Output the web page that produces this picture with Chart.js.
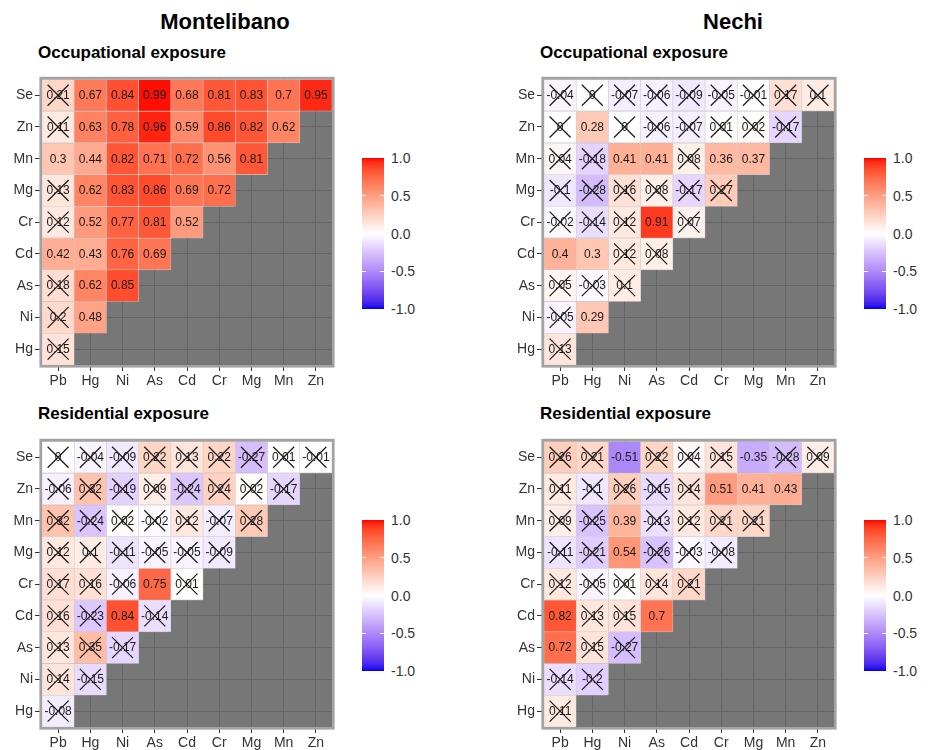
<!DOCTYPE html>
<html>
<head>
<meta charset="utf-8">
<script src="https://cdn.jsdelivr.net/npm/chart.js@4.4.1/dist/chart.umd.min.js"></script>
<style>
  html, body { margin: 0; padding: 0; background: #ffffff; }
  #page { position: relative; width: 929px; height: 750px; overflow: hidden; font-family: "Liberation Sans", Arial, Helvetica, sans-serif; }
  canvas.panel { position: absolute; }
  .site { position: absolute; font-weight: bold; font-size: 22px; color: #000; transform: translateX(-50%); white-space: nowrap; }
  .sub { position: absolute; font-weight: bold; font-size: 17px; color: #000; white-space: nowrap; }
  .bar { position: absolute; }
  .barTick { position: absolute; height: 1px; background: #ffffff; }
  .legLab { position: absolute; font-size: 14px; color: #333; white-space: nowrap; transform: translateY(-50%); }
</style>
</head>
<body>
<div id="page">
  <div class="site" style="left:225px; top:9px;">Montelibano</div>
  <div class="site" style="left:733px; top:9px;">Nechi</div>
  <div class="sub" style="left:38px; top:43px;">Occupational exposure</div>
  <div class="sub" style="left:540px; top:43px;">Occupational exposure</div>
  <div class="sub" style="left:38px; top:404px;">Residential exposure</div>
  <div class="sub" style="left:540px; top:404px;">Residential exposure</div>
</div>
<script>
// Elements on each axis; rows are listed top to bottom.
const metalsCols = ['Pb', 'Hg', 'Ni', 'As', 'Cd', 'Cr', 'Mg', 'Mn', 'Zn'];
const metalsRows = ['Se', 'Zn', 'Mn', 'Mg', 'Cr', 'Cd', 'As', 'Ni', 'Hg'];
const legendTicks = [1.0, 0.5, 0.0, -0.5, -1.0];

// Montelibano, occupational exposure
const monteOccValues = [
  [0.21, 0.67, 0.84, 0.99, 0.68, 0.81, 0.83, 0.7, 0.95],
  [0.11, 0.63, 0.78, 0.96, 0.59, 0.86, 0.82, 0.62],
  [0.3, 0.44, 0.82, 0.71, 0.72, 0.56, 0.81],
  [0.13, 0.62, 0.83, 0.86, 0.69, 0.72],
  [0.12, 0.52, 0.77, 0.81, 0.52],
  [0.42, 0.43, 0.76, 0.69],
  [0.18, 0.62, 0.85],
  [0.2, 0.48],
  [0.15]
];
const monteOccInsig = [
  [1, 0, 0, 0, 0, 0, 0, 0, 0],
  [1, 0, 0, 0, 0, 0, 0, 0],
  [0, 0, 0, 0, 0, 0, 0],
  [1, 0, 0, 0, 0, 0],
  [1, 0, 0, 0, 0],
  [0, 0, 0, 0],
  [1, 0, 0],
  [1, 0],
  [1]
];

// Nechi, occupational exposure
const nechiOccValues = [
  [-0.04, 0, -0.07, -0.06, -0.09, -0.05, -0.01, 0.17, 0.1],
  [0, 0.28, 0, -0.06, -0.07, 0.01, 0.02, -0.17],
  [0.04, -0.18, 0.41, 0.41, 0.08, 0.36, 0.37],
  [-0.1, -0.28, 0.16, 0.08, -0.17, 0.27],
  [-0.02, -0.14, 0.12, 0.91, 0.07],
  [0.4, 0.3, 0.12, 0.08],
  [0.05, -0.03, 0.1],
  [-0.05, 0.29],
  [0.13]
];
const nechiOccInsig = [
  [1, 1, 1, 1, 1, 1, 1, 1, 1],
  [1, 0, 1, 1, 1, 1, 1, 1],
  [1, 1, 0, 0, 1, 0, 0],
  [1, 1, 1, 1, 1, 1],
  [1, 1, 1, 0, 1],
  [0, 0, 1, 1],
  [1, 1, 1],
  [1, 0],
  [1]
];

// Montelibano, residential exposure
const monteResValues = [
  [0, -0.04, -0.09, 0.22, 0.13, 0.22, -0.27, 0.01, -0.01],
  [-0.06, 0.32, -0.19, 0.09, -0.24, 0.24, 0.02, -0.17],
  [0.32, -0.24, 0.02, -0.02, 0.12, -0.07, 0.28],
  [0.12, 0.1, -0.11, -0.05, -0.05, -0.09],
  [0.17, 0.16, -0.06, 0.75, 0.01],
  [0.16, -0.23, 0.84, -0.14],
  [0.13, 0.35, -0.17],
  [0.14, -0.15],
  [-0.08]
];
const monteResInsig = [
  [1, 1, 1, 1, 1, 1, 1, 1, 1],
  [1, 1, 1, 1, 1, 1, 1, 1],
  [1, 1, 1, 1, 1, 1, 1],
  [1, 1, 1, 1, 1, 1],
  [1, 1, 1, 0, 1],
  [1, 1, 0, 1],
  [1, 1, 1],
  [1, 1],
  [1]
];

// Nechi, residential exposure
const nechiResValues = [
  [0.26, 0.21, -0.51, 0.22, 0.04, 0.15, -0.35, -0.28, 0.09],
  [0.11, -0.1, 0.26, -0.15, 0.14, 0.51, 0.41, 0.43],
  [0.09, -0.25, 0.39, -0.13, 0.12, 0.21, 0.21],
  [-0.11, -0.21, 0.54, -0.26, -0.03, -0.08],
  [0.12, -0.05, 0.01, 0.14, 0.21],
  [0.82, 0.13, 0.15, 0.7],
  [0.72, 0.15, -0.27],
  [-0.14, -0.2],
  [0.11]
];
const nechiResInsig = [
  [1, 1, 0, 1, 1, 1, 0, 1, 1],
  [1, 1, 1, 1, 1, 0, 0, 0],
  [1, 1, 0, 1, 1, 1, 1],
  [1, 1, 0, 1, 1, 1],
  [1, 1, 1, 1, 1],
  [0, 1, 1, 0],
  [0, 1, 1],
  [1, 1],
  [1]
];

// ---- diverging blue / white / red scale, interpolated in CIELAB ----
function toLinear(c) { c /= 255; return c <= 0.04045 ? c / 12.92 : Math.pow((c + 0.055) / 1.055, 2.4); }
function fromLinear(c) { const v = c <= 0.0031308 ? 12.92 * c : 1.055 * Math.pow(c, 1 / 2.4) - 0.055; return Math.max(0, Math.min(255, Math.round(v * 255))); }
const WX = 0.95047, WY = 1.0, WZ = 1.08883;
function rgbToLab(rgb) {
  const r = toLinear(rgb[0]), g = toLinear(rgb[1]), b = toLinear(rgb[2]);
  const x = (0.4124564 * r + 0.3575761 * g + 0.1804375 * b) / WX;
  const y = (0.2126729 * r + 0.7151522 * g + 0.0721750 * b) / WY;
  const z = (0.0193339 * r + 0.1191920 * g + 0.9503041 * b) / WZ;
  const f = t => t > 0.008856 ? Math.cbrt(t) : 7.787 * t + 16 / 116;
  const fx = f(x), fy = f(y), fz = f(z);
  return [116 * fy - 16, 500 * (fx - fy), 200 * (fy - fz)];
}
function labToRgb(lab) {
  const fy = (lab[0] + 16) / 116, fx = fy + lab[1] / 500, fz = fy - lab[2] / 200;
  const inv = t => t * t * t > 0.008856 ? t * t * t : (t - 16 / 116) / 7.787;
  const x = inv(fx) * WX, y = inv(fy) * WY, z = inv(fz) * WZ;
  const r = 3.2404542 * x - 1.5371385 * y - 0.4985314 * z;
  const g = -0.9692660 * x + 1.8760108 * y + 0.0415560 * z;
  const b = 0.0556434 * x - 0.2040259 * y + 1.0572252 * z;
  return [fromLinear(r), fromLinear(g), fromLinear(b)];
}
const LAB_LOW = rgbToLab([0, 0, 235]);
const LAB_MID = rgbToLab([255, 255, 255]);
const LAB_HIGH = rgbToLab([255, 0, 0]);
function corrColor(v) {
  const t = Math.min(1, Math.abs(v));
  const end = v >= 0 ? LAB_HIGH : LAB_LOW;
  const lab = [0, 1, 2].map(k => LAB_MID[k] + (end[k] - LAB_MID[k]) * t);
  const c = labToRgb(lab);
  return 'rgb(' + c[0] + ',' + c[1] + ',' + c[2] + ')';
}

// ---- chart helpers ----
const PLOT = 290, YAXIS_W = 42, XAXIS_H = 32, PAD = 6;
const FONT = '"Liberation Sans", Arial, Helvetica, sans-serif';

function buildDatasets(values) {
  const n = metalsRows.length;
  return metalsRows.map((name, i) => {
    const yc = n - 1 - i;
    const row = values[i];
    return {
      label: name,
      data: metalsCols.map((c, j) => j < row.length ? [yc - 0.5, yc + 0.5] : null),
      backgroundColor: metalsCols.map((c, j) => j < row.length ? corrColor(row[j]) : 'rgba(0,0,0,0)'),
      borderColor: 'rgba(225,225,225,0.75)',
      borderWidth: 0.6,
      borderSkipped: false,
      grouped: false,
      barPercentage: 1,
      categoryPercentage: 1
    };
  });
}

const panelBackground = {
  id: 'panelBackground',
  beforeDraw(chart) {
    const a = chart.chartArea, ctx = chart.ctx;
    ctx.save();
    ctx.fillStyle = '#777777';
    ctx.fillRect(a.left, a.top, a.right - a.left, a.bottom - a.top);
    ctx.restore();
  },
  afterDraw(chart) {
    const a = chart.chartArea, ctx = chart.ctx;
    ctx.save();
    ctx.strokeStyle = '#a2a2a2';
    ctx.lineWidth = 2.6;
    ctx.strokeRect(a.left - 1.3, a.top - 1.3, a.right - a.left + 2.6, a.bottom - a.top + 2.6);
    ctx.restore();
  }
};

function cellLabels(values, insig) {
  return {
    id: 'cellLabels',
    afterDatasetsDraw(chart) {
      const ctx = chart.ctx;
      ctx.save();
      ctx.font = '12px ' + FONT;
      ctx.textAlign = 'center';
      ctx.textBaseline = 'middle';
      chart.data.datasets.forEach((ds, i) => {
        const meta = chart.getDatasetMeta(i);
        values[i].forEach((v, j) => {
          const el = meta.data[j];
          if (!el) return;
          const cx = el.x, cy = (el.y + el.base) / 2;
          ctx.fillStyle = '#1a1a1a';
          ctx.fillText(String(v), cx, cy + 0.5);
          if (insig[i][j]) {
            const h = 10.5;
            ctx.strokeStyle = '#1a1a1a';
            ctx.lineWidth = 1.2;
            ctx.beginPath();
            ctx.moveTo(cx - h, cy - h); ctx.lineTo(cx + h, cy + h);
            ctx.moveTo(cx - h, cy + h); ctx.lineTo(cx + h, cy - h);
            ctx.stroke();
          }
        });
      });
      ctx.restore();
    }
  };
}

function makePanel(plotLeft, plotTop, values, insig) {
  const page = document.getElementById('page');
  const cv = document.createElement('canvas');
  cv.className = 'panel';
  const w = YAXIS_W + PLOT + PAD, h = PAD + PLOT + XAXIS_H;
  cv.width = w; cv.height = h;
  cv.style.width = w + 'px'; cv.style.height = h + 'px';
  cv.style.left = (plotLeft - YAXIS_W) + 'px';
  cv.style.top = (plotTop - PAD) + 'px';
  page.appendChild(cv);
  const n = metalsRows.length;
  new Chart(cv, {
    type: 'bar',
    data: { labels: metalsCols, datasets: buildDatasets(values) },
    options: {
      responsive: false,
      animation: false,
      events: [],
      devicePixelRatio: 1,
      layout: { padding: { top: PAD, right: PAD, left: 0, bottom: 0 } },
      plugins: { legend: { display: false }, tooltip: { enabled: false }, title: { display: false } },
      scales: {
        x: {
          type: 'category',
          offset: true,
          grid: { offset: false, color: '#646464', lineWidth: 1, tickColor: '#333333', tickLength: 6, drawTicks: true },
          border: { display: false },
          ticks: { color: '#333333', font: { family: FONT, size: 14 }, padding: 2, maxRotation: 0, autoSkip: false },
          afterFit(scale) { scale.height = XAXIS_H; }
        },
        y: {
          type: 'linear',
          min: -0.5,
          max: n - 0.5,
          grid: { color: '#646464', lineWidth: 1, tickColor: '#333333', tickLength: 7, drawTicks: true },
          border: { display: false },
          afterBuildTicks(scale) { scale.ticks = metalsRows.map((_, i) => ({ value: i })); },
          ticks: {
            color: '#333333', font: { family: FONT, size: 14 }, padding: 2,
            callback: v => metalsRows[n - 1 - v]
          },
          afterFit(scale) { scale.width = YAXIS_W; }
        }
      }
    },
    plugins: [panelBackground, cellLabels(values, insig)]
  });
}

function makeColorbar(left, top, width, height, labelLeft) {
  const page = document.getElementById('page');
  const bar = document.createElement('div');
  bar.className = 'bar';
  const stops = [];
  for (let k = 0; k <= 40; k++) {
    const v = 1 - k / 20;
    stops.push(corrColor(v) + ' ' + (k / 40 * 100).toFixed(2) + '%');
  }
  bar.style.cssText = 'left:' + left + 'px;top:' + top + 'px;width:' + width + 'px;height:' + height + 'px;background:linear-gradient(to bottom,' + stops.join(',') + ');';
  page.appendChild(bar);
  legendTicks.forEach(v => {
    const y = top + (1 - v) / 2 * height;
    if (Math.abs(v) < 1) {
      const tl = Math.round(width / 5);
      [left, left + width - tl].forEach(x => {
        const t = document.createElement('div');
        t.className = 'barTick';
        t.style.cssText = 'left:' + x + 'px;top:' + (y - 0.5) + 'px;width:' + tl + 'px;';
        page.appendChild(t);
      });
    }
    const lab = document.createElement('div');
    lab.className = 'legLab';
    lab.style.left = labelLeft + 'px';
    lab.style.top = y + 'px';
    lab.textContent = v.toFixed(1);
    page.appendChild(lab);
  });
}

makePanel(42, 75, monteOccValues, monteOccInsig);
makePanel(543.5, 75, nechiOccValues, nechiOccInsig);
makePanel(42, 437, monteResValues, monteResInsig);
makePanel(543.5, 437, nechiResValues, nechiResInsig);

makeColorbar(362, 158, 22, 151, 391);
makeColorbar(864, 158, 22, 151, 893);
makeColorbar(362, 520, 22, 151, 391);
makeColorbar(864, 520, 22, 151, 893);
</script>
</body>
</html>
